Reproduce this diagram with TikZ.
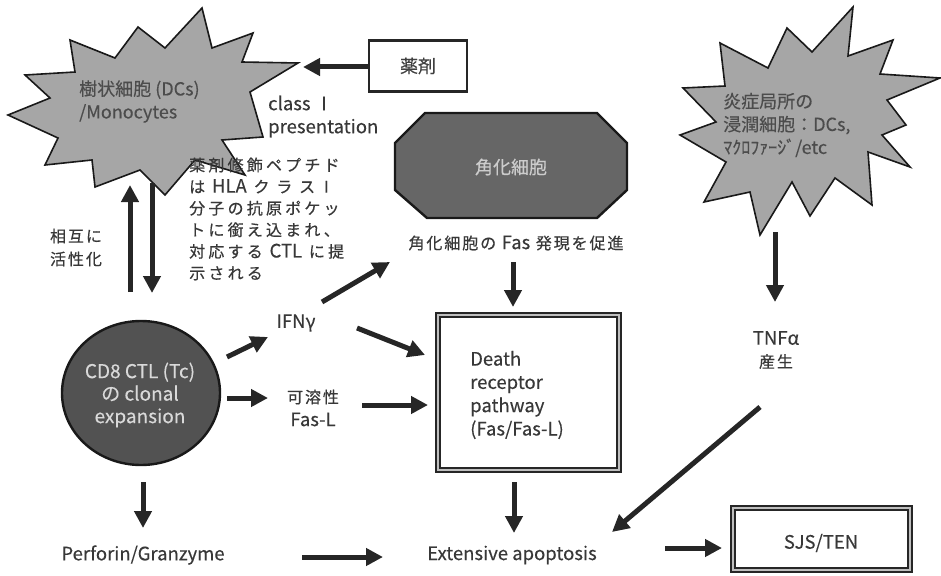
\documentclass[tikz,border=0pt]{standalone}
\usepackage{fontspec}
\setmainfont[FakeBold=0.3,AutoFakeBold=0.3]{Noto Sans CJK JP}
\newfontfamily\jpsp[LetterSpace=12,FakeBold=0.5]{Noto Sans CJK JP}
\newfontfamily\jpwide[LetterSpace=20,FakeBold=0.5]{Noto Sans CJK JP}
\newfontfamily\latfam[FakeBold=0.3]{Noto Sans CJK JP}
\newcommand\latx[1]{{\latfam\fontsize{18.5}{23}\selectfont #1}}
\usetikzlibrary{arrows.meta,shapes.geometric}
\tikzset{
  arr/.style={line width=5pt, draw=black!85, -{Triangle[length=17pt,width=17pt]}},
  lbl/.style={inner sep=0pt, text=black!78, font=\fontsize{16}{23}\selectfont\jpsp},
  lat/.style={inner sep=0pt, text=black!78, font=\fontsize{18.5}{23}\selectfont},
  star/.style={draw=black!90, line width=1.6pt, fill=black!35, line join=miter, miter limit=5},
  dbl/.style={draw=black!85, double=black!25, double distance=2.4pt, line width=1.6pt, inner sep=0pt},
  inshape/.style={inner sep=0pt, font=\fontsize{18}{23}\selectfont},
}
\begin{document}
\begin{tikzpicture}[x=1pt,y=-1pt]
\useasboundingbox (0,0) rectangle (941,575);

% ---- star 1: dendritic cells
\draw[star] (8,115) -- (50,98) -- (25,75) -- (75,72) -- (70,40) -- (115,58) -- (138,27)
  -- (165,48) -- (202,8) -- (212,48) -- (253,33) -- (242,62) -- (298,63) -- (250,92)
  -- (263,137) -- (222,140) -- (245,175) -- (195,160)
  -- (165,195) -- (140,170) -- (95,187) -- (92,160) -- (45,165) -- (58,138) -- cycle;
\node[inshape, text=black!70, anchor=west, align=left] (s1) at (79,101.5)
  {樹状細胞 (DCs)\\/Monocytes};

% ---- star 2: inflammatory infiltrating cells
\draw[star] (680,135) -- (716,122) -- (683,88) -- (725,86) -- (720,43) -- (768,68)
  -- (787,28) -- (812,52) -- (853,7) -- (848,56) -- (893,40) -- (880,74) -- (940,78)
  -- (887,100) -- (906,125) -- (882,135) -- (910,167) -- (868,152) -- (872,205)
  -- (835,178) -- (810,216) -- (792,182) -- (760,235) -- (750,192) -- (704,202)
  -- (726,162) -- cycle;
\node[inshape, text=black!70, anchor=west, align=left] (s2) at (723,125)
  {炎症局所の\\浸潤細胞：DCs,\\ﾏｸﾛﾌｧｰｼﾞ/etc};

% ---- drug box
\node[draw=black!85, line width=2.6pt, minimum width=98, minimum height=51, inner sep=0pt,
  font=\fontsize{18}{20}\selectfont, text=black!75] (yak) at (418,66) {薬剤};
\node[lat, anchor=west, align=left] (cls) at (268,116.5) {class Ⅰ\\presentation};

% ---- note
\node[inner sep=0pt, text=black!78, anchor=west, align=left,
  font=\fontsize{16}{21.6}\selectfont\jpwide] (note) at (189,219)
  {薬剤修飾ペプチド\\は \latx{HLA} ク ラ スⅠ\\分子の抗原ポケッ\\トに銜え込まれ、\\対応する \latx{CTL} に提\\示される};

\node[lbl, align=center] (sogo) at (76,247.5) {相互に\\活性化};

% ---- keratinocyte octagon
\draw[draw=black!90, line width=2.4pt, fill=black!60, line join=miter]
  (425,113) -- (597,113) -- (627,143) -- (627,190) -- (597,218) -- (427,218)
  -- (395,190) -- (395,143) -- cycle;
\node[inshape, text=white!80!black] (kera) at (511,167) {角化細胞};
\node[lbl] (fas) at (516,243) {角化細胞の \latx{Fas} 発現を促進};

% ---- CTL circle
\node[ellipse, draw=black!90, line width=2.4pt, fill=black!68, minimum width=158,
  minimum height=144, inner sep=0pt] (cd8) at (141,393) {};
\node[inshape, text=white!85!black, align=center, font=\fontsize{19}{22.5}\selectfont] (cd8t) at (140,395)
  {CD8 CTL (Tc)\\の clonal\\expansion};

\node[lat] (ifn) at (296,323) {IFNγ};
\node[lbl, align=center] (kayou) at (313,408) {可溶性\\\latx{Fas-L}};

% ---- death receptor box
\node[dbl, minimum width=181, minimum height=155] (death) at (528.5,392.5) {};
\node[lat, anchor=west, align=left, font=\fontsize{18.5}{23.3}\selectfont] (deatht) at (470,395)
  {Death\\receptor\\pathway\\(Fas/Fas-L)};

\node[lbl, align=center] (tnf) at (776,350) {\latx{TNFα}\\産生};

\node[lat] (perf) at (143,555) {Perforin/Granzyme};
\node[lat] (apop) at (512,555) {Extensive apoptosis};
\node[dbl, minimum width=177, minimum height=62] (sjsbox) at (821.5,539) {};
\node[lat] (sjs) at (821,543) {SJS/TEN};

% ---- connector end points
\coordinate (s1tip) at (303,67);
\coordinate (upA) at (130,292); \coordinate (upB) at (130,185);
\coordinate (dnA) at (152,183); \coordinate (dnB) at (152,293);
\coordinate (c2iA) at (227,357); \coordinate (c2iB) at (268,337);
\coordinate (c2kA) at (227,398); \coordinate (c2kB) at (268,398);
\coordinate (i2fA) at (322,302); \coordinate (i2fB) at (390,262);
\coordinate (i2dA) at (357,328); \coordinate (i2dB) at (425,355);
\coordinate (k2dA) at (362,405); \coordinate (k2dB) at (428,405);
\coordinate (f2dA) at (513,262); \coordinate (f2dB) at (513,307);
\coordinate (d2aA) at (514,482); \coordinate (d2aB) at (514,533);
\coordinate (s2tA) at (775,232); \coordinate (s2tB) at (775,302);
\coordinate (t2aA) at (760,407); \coordinate (t2aB) at (612,532);
\coordinate (c2pA) at (143,482); \coordinate (c2pB) at (143,528);
\coordinate (p2aA) at (302,557); \coordinate (p2aB) at (383,557);
\coordinate (a2sA) at (665,548); \coordinate (a2sB) at (722,548);

\draw[arr] (yak.west |- s1tip) -- (s1tip);
\draw[arr] (upA) -- (upB);
\draw[arr] (dnA) -- (dnB);
\draw[arr] (c2iA) -- (c2iB);
\draw[arr] (c2kA) -- (c2kB);
\draw[arr] (i2fA) -- (i2fB);
\draw[arr] (i2dA) -- (i2dB);
\draw[arr] (k2dA) -- (k2dB);
\draw[arr] (f2dA) -- (f2dB);
\draw[arr] (d2aA) -- (d2aB);
\draw[arr] (s2tA) -- (s2tB);
\draw[arr] (t2aA) -- (t2aB);
\draw[arr] (c2pA) -- (c2pB);
\draw[arr] (p2aA) -- (p2aB);
\draw[arr] (a2sA) -- (a2sB);
\end{tikzpicture}
\end{document}
